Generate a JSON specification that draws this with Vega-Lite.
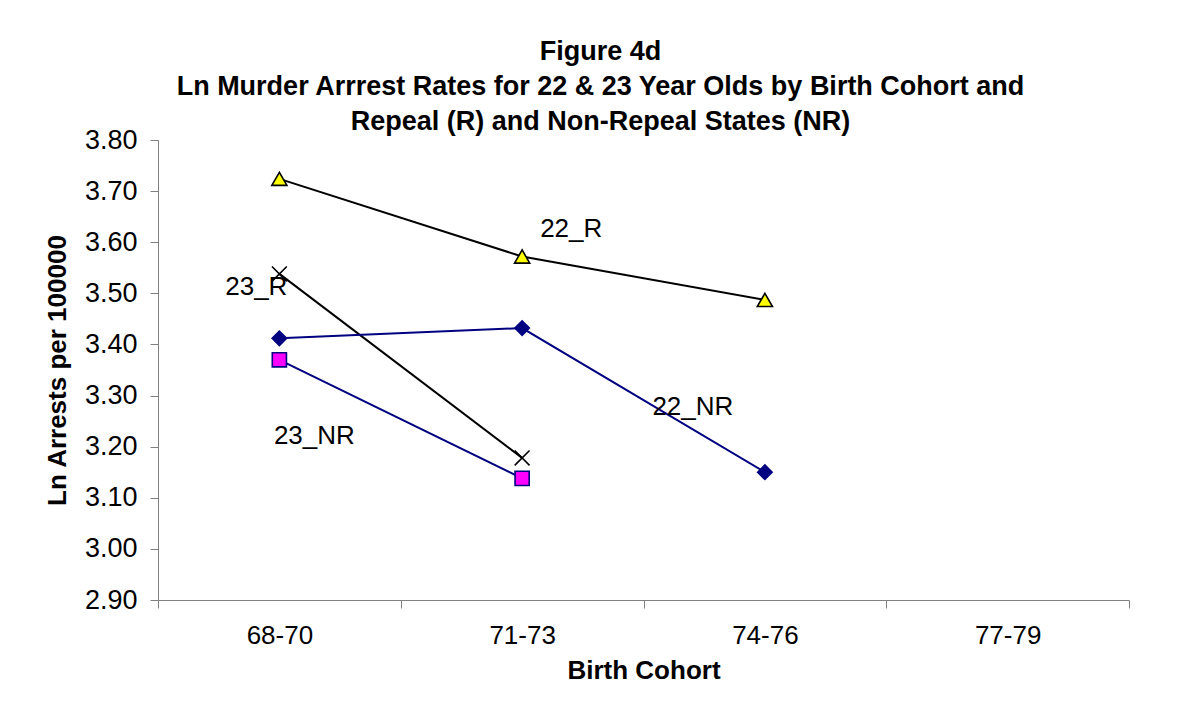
{
  "$schema": "https://vega.github.io/schema/vega-lite/v6.json",
  "autosize": "none",
  "width": 971,
  "height": 460,
  "padding": {"top": 140, "left": 158, "right": 70, "bottom": 104},
  "background": "white",
  "config": {
    "view": {"stroke": null},
    "font": "Liberation Sans"
  },
  "title": {
    "text": ["Figure 4d", "Ln Murder Arrrest Rates for 22 & 23 Year Olds by Birth Cohort and", "Repeal (R) and Non-Repeal States (NR)"],
    "font": "Liberation Sans",
    "fontSize": 27,
    "fontWeight": "bold",
    "color": "black",
    "lineHeight": 35,
    "anchor": "middle",
    "frame": "group",
    "dx": -43,
    "baseline": "bottom",
    "offset": -37
  },
  "datasets": {
    "points": [
      {"series": "22_R", "cohort": "68-70", "value": 3.724},
      {"series": "22_R", "cohort": "71-73", "value": 3.572},
      {"series": "22_R", "cohort": "74-76", "value": 3.487},
      {"series": "23_R", "cohort": "68-70", "value": 3.538},
      {"series": "23_R", "cohort": "71-73", "value": 3.178},
      {"series": "22_NR", "cohort": "68-70", "value": 3.412},
      {"series": "22_NR", "cohort": "71-73", "value": 3.432},
      {"series": "22_NR", "cohort": "74-76", "value": 3.150},
      {"series": "23_NR", "cohort": "68-70", "value": 3.370},
      {"series": "23_NR", "cohort": "71-73", "value": 3.138}
    ],
    "labels": [
      {"label": "22_R", "cohort": "71-73", "value": 3.626},
      {"label": "23_R", "cohort": "68-70", "value": 3.512},
      {"label": "22_NR", "cohort": "74-76", "value": 3.277},
      {"label": "23_NR", "cohort": "68-70", "value": 3.221}
    ]
  },
  "encoding": {
    "x": {
      "field": "cohort",
      "type": "nominal",
      "sort": ["68-70", "71-73", "74-76", "77-79"],
      "scale": {"type": "band", "domain": ["68-70", "71-73", "74-76", "77-79"], "paddingInner": 0, "paddingOuter": 0},
      "axis": {
        "title": "Birth Cohort",
        "titleFont": "Liberation Sans",
        "titleFontSize": 26,
        "titleFontWeight": "bold",
        "titleColor": "black",
        "titlePadding": 9,
        "labelFont": "Liberation Sans",
        "labelFontSize": 26,
        "labelColor": "black",
        "labelAngle": 0,
        "labelPadding": 14,
        "tickBand": "extent",
        "tickSize": 8,
        "tickColor": "#808080",
        "domainColor": "#808080",
        "grid": false
      }
    },
    "y": {
      "field": "value",
      "type": "quantitative",
      "scale": {"domain": [2.9, 3.8], "nice": false, "zero": false},
      "axis": {
        "title": "Ln Arrests per 100000",
        "titleFont": "Liberation Sans",
        "titleFontSize": 26,
        "titleFontWeight": "bold",
        "titleColor": "black",
        "titlePadding": 14,
        "labelFont": "Liberation Sans",
        "labelFontSize": 27,
        "labelColor": "black",
        "labelPadding": 13,
        "values": [2.9, 3.0, 3.1, 3.2, 3.3, 3.4, 3.5, 3.6, 3.7, 3.8],
        "format": ".2f",
        "tickSize": 8,
        "tickColor": "#808080",
        "domainColor": "#808080",
        "grid": false
      }
    }
  },
  "layer": [
    {
      "data": {"name": "points"},
      "mark": {"type": "line", "strokeWidth": 2},
      "encoding": {
        "detail": {"field": "series", "type": "nominal"},
        "color": {
          "field": "series",
          "type": "nominal",
          "scale": {"domain": ["22_R", "23_R", "22_NR", "23_NR"], "range": ["#000000", "#000000", "#000080", "#000080"]},
          "legend": null
        }
      }
    },
    {
      "data": {"name": "points"},
      "mark": {"type": "point", "filled": false, "opacity": 1, "strokeWidth": 1.6},
      "encoding": {
        "shape": {
          "field": "series",
          "type": "nominal",
          "scale": {"domain": ["22_R", "23_R", "22_NR", "23_NR"], "range": ["triangle-up", "M-1,-1L1,1M-1,1L1,-1", "diamond", "square"]},
          "legend": null
        },
        "fill": {
          "field": "series",
          "type": "nominal",
          "scale": {"domain": ["22_R", "23_R", "22_NR", "23_NR"], "range": ["#FFFF00", "transparent", "#000080", "#FF00FF"]},
          "legend": null
        },
        "stroke": {
          "field": "series",
          "type": "nominal",
          "scale": {"domain": ["22_R", "23_R", "22_NR", "23_NR"], "range": ["#000000", "#000000", "#000080", "#000080"]},
          "legend": null
        },
        "size": {
          "field": "series",
          "type": "nominal",
          "scale": {"domain": ["22_R", "23_R", "22_NR", "23_NR"], "range": [230, 200, 210, 160]},
          "legend": null
        }
      }
    },
    {
      "data": {"name": "labels"},
      "transform": [{"filter": "datum.label == '22_R'"}],
      "mark": {"type": "text", "align": "left", "baseline": "middle", "dx": 18, "font": "Liberation Sans", "fontSize": 26, "color": "black"},
      "encoding": {"text": {"field": "label"}}
    },
    {
      "data": {"name": "labels"},
      "transform": [{"filter": "datum.label == '23_R'"}],
      "mark": {"type": "text", "align": "right", "baseline": "middle", "dx": 8, "font": "Liberation Sans", "fontSize": 26, "color": "black"},
      "encoding": {"text": {"field": "label"}}
    },
    {
      "data": {"name": "labels"},
      "transform": [{"filter": "datum.label == '22_NR'"}],
      "mark": {"type": "text", "align": "center", "baseline": "middle", "dx": -72, "font": "Liberation Sans", "fontSize": 26, "color": "black"},
      "encoding": {"text": {"field": "label"}}
    },
    {
      "data": {"name": "labels"},
      "transform": [{"filter": "datum.label == '23_NR'"}],
      "mark": {"type": "text", "align": "center", "baseline": "middle", "dx": 35, "font": "Liberation Sans", "fontSize": 26, "color": "black"},
      "encoding": {"text": {"field": "label"}}
    }
  ]
}
